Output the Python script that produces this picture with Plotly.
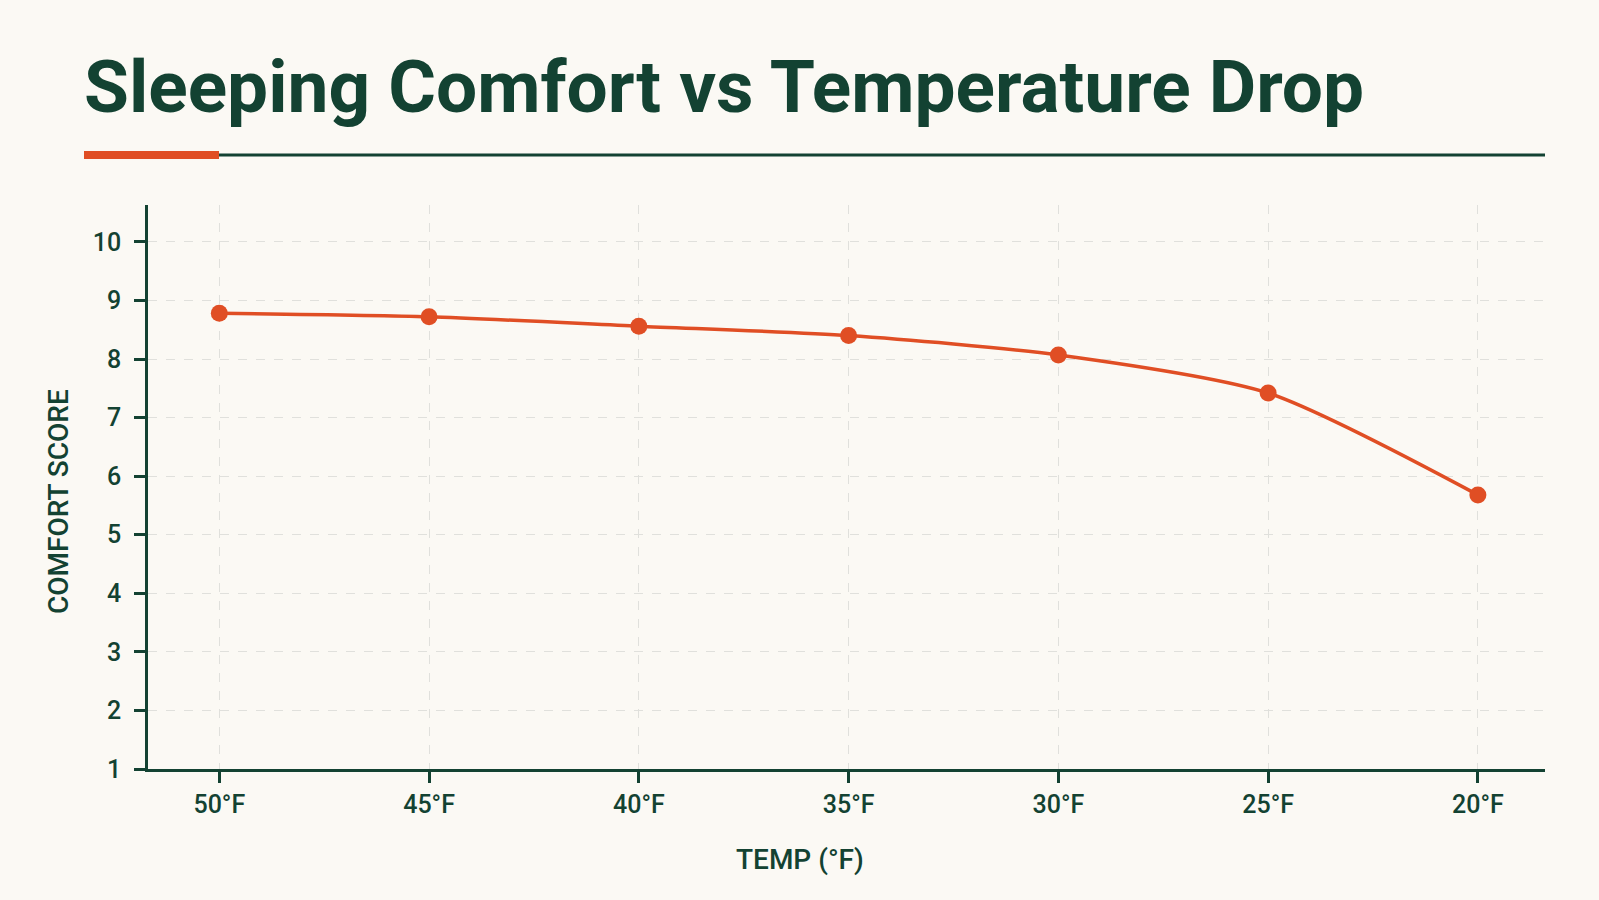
import plotly.graph_objects as go

temps = ["50°F", "45°F", "40°F", "35°F", "30°F", "25°F", "20°F"]
comfort = [8.78, 8.72, 8.56, 8.40, 8.07, 7.42, 5.68]
y_ticks = [1, 2, 3, 4, 5, 6, 7, 8, 9, 10]

GREEN = "#134232"
RED = "#e04e24"
BG = "#fbf9f4"
GRID = "#e0e0dc"

xs = list(range(len(temps)))

fig = go.Figure()
fig.add_trace(go.Scatter(
    x=xs, y=comfort, mode="lines+markers",
    line=dict(color=RED, width=3.5, shape="spline", smoothing=0.7),
    marker=dict(color=RED, size=17),
    showlegend=False, hoverinfo="skip",
))

L, R, T, B = 148, 54, 205, 131
W, H = 1599, 900
pw = W - L - R
ph = H - T - B

def px_x(p):
    return (p - L) / pw

def px_y(p):
    return (H - B - p) / ph

fig.update_layout(
    width=W, height=H,
    margin=dict(l=L, r=R, t=T, b=B, autoexpand=False),
    paper_bgcolor=BG, plot_bgcolor=BG,
    font=dict(family="Roboto", color=GREEN),
    title=dict(
        text="<b>Sleeping Comfort vs Temperature Drop</b>",
        font=dict(family="Roboto", size=73, color=GREEN),
        xref="container", x=84 / W, xanchor="left",
        yref="container", y=1 - 86 / H, yanchor="middle",
        pad=dict(l=0, r=0, t=0, b=0),
    ),
    xaxis=dict(
        range=[-0.34, 6.32], tickmode="array", tickvals=xs, ticktext=temps,
        showline=True, linecolor=GREEN, linewidth=2.5,
        ticks="outside", ticklen=11, tickwidth=2.5, tickcolor=GREEN,
        tickfont=dict(size=25, color=GREEN, weight=500),
        ticklabelstandoff=0,
        showgrid=True, gridcolor=GRID, griddash="dash", gridwidth=1,
        zeroline=False, fixedrange=True,
    ),
    yaxis=dict(
        range=[1, 10.63], tickmode="array", tickvals=y_ticks,
        showline=True, linecolor=GREEN, linewidth=2.5,
        ticks="outside", ticklen=11, tickwidth=2.5, tickcolor=GREEN,
        tickfont=dict(size=25, color=GREEN, weight=500),
        ticklabelstandoff=8,
        showgrid=True, gridcolor=GRID, griddash="dash", gridwidth=1,
        zeroline=False, fixedrange=True,
    ),
    shapes=[
        dict(type="line", xref="paper", yref="paper",
             x0=px_x(219), x1=1.0, y0=px_y(155), y1=px_y(155),
             line=dict(color=GREEN, width=3)),
        dict(type="line", xref="paper", yref="paper",
             x0=px_x(84), x1=px_x(219), y0=px_y(155), y1=px_y(155),
             line=dict(color=RED, width=8)),
    ],
    annotations=[
        dict(text="TEMP (°F)", xref="paper", yref="paper",
             x=px_x(800), y=px_y(859), xanchor="center", yanchor="middle",
             showarrow=False, font=dict(size=28, color=GREEN, weight=500)),
        dict(text="COMFORT SCORE", xref="paper", yref="paper", textangle=-90,
             x=px_x(58), y=px_y(502), xanchor="center", yanchor="middle",
             showarrow=False, font=dict(size=28, color=GREEN, weight=500)),
    ],
)

fig.write_html("out.html")
